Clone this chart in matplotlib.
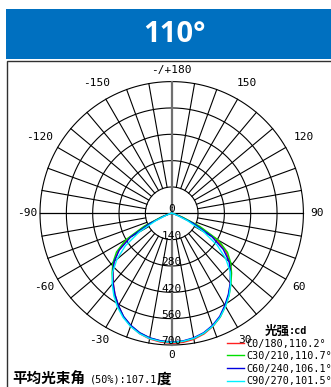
import numpy as np
import matplotlib
matplotlib.use('Agg')
import matplotlib.pyplot as plt
from matplotlib.patches import Rectangle

# gamma angles (deg), 0 = straight down
angles = [-90, -85, -80, -75, -70, -65, -60, -55, -50, -45, -40, -35, -30, -25, -20, -15, -10, -5,
          0, 5, 10, 15, 20, 25, 30, 35, 40, 45, 50, 55, 60, 65, 70, 75, 80, 85, 90]

# luminous intensity (cd)
c0_180 = [0, 3, 6, 16, 50, 145, 268, 346, 398, 440, 483, 526, 567, 607, 638, 662, 678, 687,
          692, 689, 680, 664, 640, 609, 569, 528, 485, 443, 402, 350, 272, 148, 52, 17, 7, 3, 0]
c30_210 = [0, 3, 8, 20, 60, 160, 282, 358, 408, 448, 488, 530, 569, 607, 636, 658, 673, 681,
           686, 683, 675, 660, 638, 609, 571, 532, 490, 450, 410, 362, 288, 165, 62, 20, 8, 3, 0]
c60_240 = [0, 2, 6, 15, 45, 130, 252, 340, 400, 443, 485, 526, 566, 605, 634, 657, 672, 680,
           684, 681, 672, 657, 634, 604, 565, 525, 484, 442, 398, 335, 245, 125, 42, 14, 6, 2, 0]
c90_270 = [0, 2, 4, 10, 32, 95, 200, 300, 380, 445, 492, 536, 576, 611, 640, 662, 676, 683,
           686, 683, 675, 660, 638, 609, 572, 532, 488, 440, 375, 295, 195, 92, 30, 10, 4, 2, 0]

series = [c0_180, c30_210, c60_240, c90_270]
series_names = ['C0/180,110.2°', 'C30/210,110.7°', 'C60/240,106.1°', 'C90/270,101.5°']
series_colors = ['#ff2020', '#00e000', '#0000e0', '#00f0ff']

ring_values = [140, 280, 420, 560, 700]
angle_ticks = [0, 30, 60, 90, 120, 150, 180, -150, -120, -90, -60, -30]
angle_texts = ['0', '30', '60', '90', '120', '150', '-/+180', '-150', '-120', '-90', '-60', '-30']
label_radius = [752, 775, 780, 770, 810, 800, 762, 800, 810, 770, 780, 775]

W, H = 331, 387
MONO = 'DejaVu Sans Mono'
CJK = ['Noto Sans CJK SC', 'DejaVu Sans']


def fx(x):
    return x / W


def fy(y):
    return 1 - y / H


fig = plt.figure(figsize=(W / 100, H / 100), dpi=100)

# blue title band and frame
fig.patches.append(Rectangle((fx(6), fy(59)), 325 / W, 50 / H, transform=fig.transFigure,
                             facecolor='#0070c0', edgecolor='none'))
fig.text(fx(175), fy(34), '110°', color='white', fontsize=21, fontweight='bold',
         family='Open Sans', ha='center', va='center')
fig.patches.append(Rectangle((fx(7), -0.1), 1.0, fy(61) + 0.1, transform=fig.transFigure,
                             facecolor='none', edgecolor='#303030', lw=1.0))

# polar diagram
cx, cy, R = 171.7, 213.3, 131.7
ax = fig.add_axes([fx(cx - R), fy(cy + R), 2 * R / W, 2 * R / H], projection='polar')
ax.set_theta_zero_location('S')
ax.set_theta_direction(1)
ax.set_ylim(0, 700)
ax.set_axis_off()

full = np.linspace(0, 2 * np.pi, 361)
for r in ring_values:
    ax.plot(full, [r] * len(full), color='black', lw=0.8, clip_on=False, zorder=1)

for a in range(-170, 190, 10):
    if a in (0, 90, -90, 180):
        continue
    t = np.deg2rad(a)
    ax.plot([t, t], [140, 700], color='black', lw=0.8, clip_on=False, zorder=1)

for a in (90, -90):
    t = np.deg2rad(a)
    ax.plot([t, t], [0, 700], color='black', lw=0.9, clip_on=False, zorder=1)
for a in (0, 180):
    t = np.deg2rad(a)
    ax.plot([t, t], [0, 700], color='#707070', lw=1.6, clip_on=False, zorder=1)

th = np.deg2rad(angles)
lines = []
for vals, name, col in zip(series, series_names, series_colors):
    ln, = ax.plot(th, vals, color=col, lw=1.0, label=name, clip_on=False, zorder=3)
    lines.append(ln)

for a, txt, rr in zip(angle_ticks, angle_texts, label_radius):
    ax.text(np.deg2rad(a), rr, txt, ha='center', va='center', family=MONO, fontsize=8)

for r in ring_values:
    ax.text(0, r - 20, str(r), ha='center', va='center', family=MONO, fontsize=8, zorder=4)
ax.text(np.pi, 22, '0', ha='center', va='center', family=MONO, fontsize=8, zorder=4)

# legend
fig.text(fx(265), fy(331), '光强', family=CJK, fontweight='bold', fontsize=9,
         ha='left', va='center')
fig.text(fx(289), fy(331), ':cd', family=MONO, fontweight='bold', fontsize=7.3,
         ha='left', va='center')
fig.legend(handles=lines, loc='upper left', bbox_to_anchor=(fx(227), fy(338.5)),
           frameon=False, prop={'family': MONO, 'size': 7.3}, handlelength=1.7,
           handletextpad=0.2, labelspacing=0.25, borderpad=0, borderaxespad=0)

# average beam angle
fig.text(fx(12), fy(379), '平均光束角', family=CJK, fontweight='bold', fontsize=10.5,
         ha='left', va='center')
fig.text(fx(89.5), fy(379), '(50%):107.1', family=MONO, fontsize=7.3, ha='left', va='center')
fig.text(fx(157), fy(379), '度', family=CJK, fontweight='bold', fontsize=10.5,
         ha='left', va='center')

fig.savefig('out.png', dpi=100)
